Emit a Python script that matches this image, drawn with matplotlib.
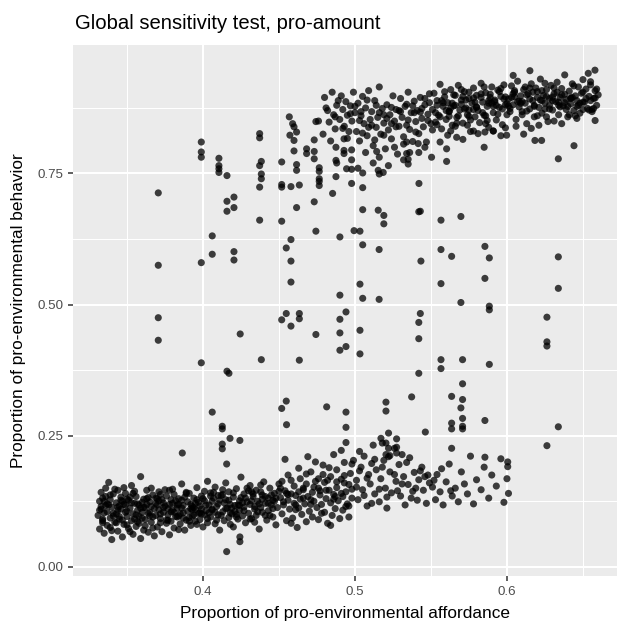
import matplotlib
matplotlib.use("Agg")
import matplotlib.pyplot as plt
from matplotlib.ticker import FixedLocator

plt.rcParams['font.family'] = ['Liberation Sans', 'DejaVu Sans']

# ---- data ----
# lower band, x 0.33-0.40
low_a_x = [0.331, 0.332, 0.332, 0.333, 0.333, 0.334, 0.334, 0.335, 0.336, 0.336,
           0.337, 0.337, 0.338, 0.339, 0.339, 0.340, 0.340, 0.341, 0.342, 0.343,
           0.343, 0.344, 0.344, 0.345, 0.346, 0.346, 0.347, 0.348, 0.348, 0.349,
           0.349, 0.350, 0.351, 0.351, 0.352, 0.353, 0.353, 0.354, 0.355, 0.356,
           0.356, 0.357, 0.358, 0.358, 0.359, 0.359, 0.360, 0.361, 0.361, 0.362,
           0.362, 0.363, 0.364, 0.364, 0.365, 0.366, 0.366, 0.367, 0.368, 0.369,
           0.369, 0.370, 0.371, 0.371, 0.372, 0.373, 0.373, 0.374, 0.375, 0.376,
           0.376, 0.377, 0.378, 0.378, 0.379, 0.380, 0.380, 0.381, 0.382, 0.383,
           0.383, 0.384, 0.385, 0.385, 0.386, 0.387, 0.387, 0.388, 0.389, 0.390,
           0.390, 0.391, 0.392, 0.392, 0.393, 0.394, 0.394, 0.395, 0.396, 0.397,
           0.397, 0.398, 0.399, 0.399, 0.400, 0.401, 0.401, 0.402, 0.403, 0.403,
           0.333, 0.335, 0.338, 0.341, 0.344, 0.347, 0.350, 0.352, 0.355, 0.357,
           0.360, 0.363, 0.365, 0.368, 0.370, 0.372, 0.374, 0.377, 0.379, 0.381,
           0.384, 0.386, 0.388, 0.391, 0.393, 0.395, 0.398, 0.400, 0.402, 0.334,
           0.339, 0.343, 0.346, 0.350, 0.354, 0.358, 0.363, 0.367, 0.372, 0.376,
           0.380, 0.384, 0.389, 0.393, 0.396, 0.340, 0.348, 0.356, 0.366, 0.378]
low_a_y = [0.098, 0.125, 0.072, 0.142, 0.110, 0.088, 0.131, 0.064, 0.117, 0.150,
           0.105, 0.079, 0.161, 0.093, 0.128, 0.052, 0.114, 0.139, 0.085, 0.101,
           0.122, 0.068, 0.146, 0.091, 0.110, 0.133, 0.057, 0.119, 0.081, 0.104,
           0.140, 0.096, 0.073, 0.127, 0.112, 0.088, 0.155, 0.062, 0.121, 0.099,
           0.134, 0.108, 0.083, 0.118, 0.172, 0.054, 0.093, 0.129, 0.070, 0.113,
           0.090, 0.146, 0.102, 0.066, 0.124, 0.085, 0.115, 0.137, 0.059, 0.098,
           0.121, 0.076, 0.109, 0.143, 0.092, 0.128, 0.067, 0.104, 0.116, 0.083,
           0.135, 0.099, 0.061, 0.119, 0.087, 0.148, 0.108, 0.074, 0.126, 0.095,
           0.112, 0.130, 0.082, 0.101, 0.158, 0.093, 0.117, 0.070, 0.089, 0.124,
           0.106, 0.140, 0.079, 0.119, 0.097, 0.131, 0.113, 0.087, 0.151, 0.102,
           0.123, 0.090, 0.135, 0.110, 0.076, 0.144, 0.099, 0.118, 0.163, 0.084,
           0.115, 0.103, 0.118, 0.097, 0.108, 0.125, 0.106, 0.133, 0.091, 0.120,
           0.104, 0.119, 0.097, 0.111, 0.130, 0.101, 0.122, 0.111, 0.128, 0.104,
           0.097, 0.112, 0.133, 0.094, 0.109, 0.121, 0.103, 0.130, 0.107, 0.084,
           0.137, 0.084, 0.127, 0.080, 0.140, 0.096, 0.130, 0.074, 0.138, 0.089,
           0.121, 0.071, 0.142, 0.115, 0.081, 0.069, 0.151, 0.077, 0.150, 0.146]

# lower band, x 0.40-0.45
low_b_x = [0.404, 0.405, 0.405, 0.406, 0.407, 0.408, 0.408, 0.409, 0.410, 0.411,
           0.411, 0.412, 0.413, 0.414, 0.414, 0.415, 0.416, 0.417, 0.417, 0.418,
           0.419, 0.420, 0.420, 0.421, 0.422, 0.423, 0.424, 0.424, 0.425, 0.426,
           0.427, 0.427, 0.428, 0.429, 0.430, 0.431, 0.431, 0.432, 0.433, 0.434,
           0.435, 0.435, 0.436, 0.437, 0.438, 0.439, 0.439, 0.440, 0.441, 0.442,
           0.443, 0.443, 0.444, 0.445, 0.446, 0.447, 0.447, 0.448, 0.449, 0.450,
           0.406, 0.410, 0.415, 0.419, 0.423, 0.428, 0.432, 0.437, 0.441, 0.446,
           0.404, 0.409, 0.413, 0.418, 0.422, 0.426, 0.430, 0.434, 0.438, 0.444]
low_b_y = [0.118, 0.095, 0.141, 0.108, 0.131, 0.082, 0.152, 0.115, 0.099, 0.127,
           0.070, 0.136, 0.105, 0.122, 0.088, 0.160, 0.112, 0.094, 0.143, 0.119,
           0.101, 0.133, 0.076, 0.117, 0.149, 0.091, 0.126, 0.108, 0.171, 0.097,
           0.139, 0.114, 0.084, 0.124, 0.102, 0.155, 0.119, 0.092, 0.134, 0.110,
           0.146, 0.098, 0.125, 0.072, 0.113, 0.137, 0.104, 0.162, 0.121, 0.089,
           0.131, 0.107, 0.150, 0.118, 0.095, 0.140, 0.125, 0.080, 0.113, 0.158,
           0.125, 0.136, 0.128, 0.112, 0.118, 0.131, 0.143, 0.120, 0.134, 0.127,
           0.103, 0.089, 0.147, 0.081, 0.100, 0.122, 0.145, 0.085, 0.156, 0.098]

# lower band, extra fill x 0.33-0.45
low_e_x = [0.332, 0.334, 0.336, 0.337, 0.339, 0.341, 0.342, 0.344, 0.345, 0.347,
           0.349, 0.350, 0.352, 0.354, 0.355, 0.357, 0.359, 0.360, 0.362, 0.364,
           0.365, 0.367, 0.369, 0.370, 0.372, 0.374, 0.375, 0.377, 0.379, 0.381,
           0.382, 0.384, 0.386, 0.387, 0.389, 0.391, 0.392, 0.394, 0.396, 0.398,
           0.399, 0.401, 0.403, 0.405, 0.406, 0.408, 0.410, 0.412, 0.413, 0.415,
           0.417, 0.418, 0.420, 0.422, 0.424, 0.425, 0.427, 0.429, 0.431, 0.432,
           0.434, 0.436, 0.438, 0.439, 0.441, 0.443, 0.445, 0.446, 0.448, 0.450,
           0.335, 0.345, 0.353, 0.361, 0.371, 0.383, 0.395, 0.407, 0.421, 0.433]
low_e_y = [0.108, 0.091, 0.134, 0.120, 0.075, 0.102, 0.148, 0.114, 0.096, 0.089,
           0.118, 0.129, 0.067, 0.101, 0.144, 0.086, 0.112, 0.123, 0.078, 0.132,
           0.104, 0.095, 0.131, 0.118, 0.084, 0.113, 0.147, 0.089, 0.105, 0.138,
           0.096, 0.119, 0.127, 0.103, 0.140, 0.087, 0.111, 0.099, 0.128, 0.116,
           0.101, 0.126, 0.092, 0.135, 0.110, 0.104, 0.120, 0.098, 0.138, 0.111,
           0.127, 0.103, 0.141, 0.095, 0.117, 0.132, 0.107, 0.150, 0.091, 0.126,
           0.115, 0.105, 0.143, 0.129, 0.098, 0.121, 0.137, 0.111, 0.131, 0.144,
           0.125, 0.116, 0.122, 0.113, 0.126, 0.118, 0.109, 0.142, 0.106, 0.139]

# lower band, x 0.45-0.50
low_c_x = [0.451, 0.452, 0.452, 0.453, 0.454, 0.455, 0.456, 0.456, 0.457, 0.458,
           0.459, 0.460, 0.460, 0.461, 0.462, 0.463, 0.464, 0.464, 0.465, 0.466,
           0.467, 0.468, 0.468, 0.469, 0.470, 0.471, 0.472, 0.472, 0.473, 0.474,
           0.475, 0.476, 0.476, 0.477, 0.478, 0.479, 0.480, 0.480, 0.481, 0.482,
           0.483, 0.484, 0.484, 0.485, 0.486, 0.487, 0.488, 0.488, 0.489, 0.490,
           0.491, 0.492, 0.492, 0.493, 0.494, 0.495, 0.496, 0.496, 0.497, 0.498,
           0.455, 0.461, 0.466, 0.471, 0.477, 0.482, 0.487, 0.493, 0.498, 0.469,
           0.454, 0.463, 0.474, 0.479, 0.486, 0.491, 0.499, 0.458, 0.484, 0.494]
low_c_y = [0.132, 0.101, 0.163, 0.118, 0.145, 0.088, 0.127, 0.175, 0.110, 0.139,
           0.093, 0.154, 0.121, 0.136, 0.075, 0.112, 0.168, 0.129, 0.100, 0.147,
           0.120, 0.086, 0.158, 0.134, 0.106, 0.181, 0.142, 0.095, 0.125, 0.163,
           0.113, 0.150, 0.090, 0.137, 0.119, 0.194, 0.104, 0.161, 0.130, 0.083,
           0.146, 0.122, 0.172, 0.098, 0.138, 0.111, 0.185, 0.151, 0.126, 0.092,
           0.167, 0.134, 0.108, 0.199, 0.143, 0.120, 0.157, 0.095, 0.178, 0.131,
           0.140, 0.118, 0.150, 0.128, 0.145, 0.165, 0.134, 0.160, 0.148, 0.210,
           0.205, 0.188, 0.200, 0.176, 0.214, 0.222, 0.203, 0.083, 0.079, 0.115]

# lower band, extra fill x 0.45-0.56
low_f_x = [0.451, 0.453, 0.456, 0.458, 0.461, 0.463, 0.466, 0.468, 0.471, 0.473,
           0.476, 0.478, 0.481, 0.483, 0.486, 0.488, 0.491, 0.493, 0.496, 0.498,
           0.501, 0.503, 0.506, 0.508, 0.511, 0.513, 0.516, 0.518, 0.521, 0.523,
           0.526, 0.528, 0.531, 0.534, 0.537, 0.543, 0.546, 0.552, 0.557, 0.563]
low_f_y = [0.150, 0.124, 0.138, 0.165, 0.109, 0.143, 0.131, 0.177, 0.119, 0.152,
           0.168, 0.102, 0.146, 0.189, 0.129, 0.162, 0.140, 0.174, 0.116, 0.196,
           0.152, 0.183, 0.136, 0.169, 0.121, 0.205, 0.148, 0.190, 0.133, 0.212,
           0.176, 0.145, 0.158, 0.199, 0.131, 0.183, 0.172, 0.165, 0.187, 0.145]

# lower band, x 0.50-0.60
low_d_x = [0.501, 0.502, 0.504, 0.505, 0.506, 0.508, 0.509, 0.510, 0.512, 0.513,
           0.514, 0.516, 0.517, 0.519, 0.520, 0.521, 0.523, 0.524, 0.526, 0.527,
           0.529, 0.530, 0.532, 0.533, 0.535, 0.536, 0.538, 0.539, 0.541, 0.542,
           0.544, 0.545, 0.547, 0.548, 0.549, 0.503, 0.511, 0.518, 0.531, 0.540,
           0.551, 0.553, 0.554, 0.556, 0.558, 0.560, 0.562, 0.564, 0.566, 0.568,
           0.570, 0.572, 0.574, 0.576, 0.578, 0.580, 0.583, 0.585, 0.588, 0.590,
           0.593, 0.596, 0.598, 0.600, 0.601]
low_d_y = [0.165, 0.128, 0.190, 0.147, 0.211, 0.116, 0.176, 0.158, 0.232, 0.139,
           0.185, 0.124, 0.168, 0.203, 0.150, 0.112, 0.181, 0.141, 0.226, 0.163,
           0.195, 0.135, 0.172, 0.118, 0.157, 0.208, 0.144, 0.180, 0.127, 0.166,
           0.190, 0.146, 0.121, 0.175, 0.160, 0.220, 0.197, 0.236, 0.214, 0.150,
           0.152, 0.128, 0.176, 0.143, 0.118, 0.162, 0.196, 0.135, 0.150, 0.124,
           0.181, 0.158, 0.139, 0.211, 0.120, 0.166, 0.147, 0.190, 0.131, 0.175,
           0.154, 0.206, 0.123, 0.168, 0.140]

# upper band, x 0.48-0.55
up_a_x = [0.480, 0.482, 0.483, 0.485, 0.486, 0.487, 0.488, 0.490, 0.491, 0.492,
          0.493, 0.494, 0.495, 0.496, 0.497, 0.498, 0.499, 0.500,
          0.501, 0.502, 0.503, 0.504, 0.505, 0.506, 0.507, 0.508, 0.509, 0.510,
          0.511, 0.512, 0.513, 0.514, 0.515, 0.516, 0.517, 0.518, 0.519, 0.520,
          0.521, 0.522, 0.523, 0.524, 0.525, 0.526, 0.527, 0.528, 0.529, 0.530,
          0.531, 0.532, 0.533, 0.534, 0.535, 0.536, 0.537, 0.538, 0.539, 0.540,
          0.541, 0.542, 0.543, 0.544, 0.545, 0.546, 0.547, 0.548, 0.549, 0.550,
          0.504, 0.509, 0.514, 0.519, 0.524, 0.529, 0.534, 0.539, 0.544, 0.549,
          0.507, 0.516, 0.526, 0.536, 0.546, 0.512, 0.522, 0.532, 0.542, 0.502]
up_a_y = [0.895, 0.870, 0.848, 0.905, 0.862, 0.835, 0.880, 0.853, 0.898, 0.872,
          0.840, 0.887, 0.861, 0.830, 0.879, 0.850, 0.905, 0.866,
          0.830, 0.884, 0.812, 0.860, 0.897, 0.845, 0.875, 0.822, 0.908, 0.853,
          0.868, 0.803, 0.889, 0.838, 0.857, 0.915, 0.825, 0.874, 0.846, 0.797,
          0.881, 0.833, 0.862, 0.816, 0.898, 0.850, 0.872, 0.787, 0.840, 0.893,
          0.857, 0.820, 0.878, 0.842, 0.905, 0.834, 0.866, 0.811, 0.888, 0.849,
          0.870, 0.826, 0.895, 0.855, 0.839, 0.881, 0.810, 0.863, 0.902, 0.845,
          0.868, 0.838, 0.880, 0.862, 0.845, 0.870, 0.882, 0.866, 0.874, 0.885,
          0.790, 0.781, 0.800, 0.790, 0.800, 0.770, 0.765, 0.776, 0.790, 0.760]

# upper band, x 0.55-0.60
up_b_x = [0.551, 0.552, 0.553, 0.554, 0.555, 0.556, 0.557, 0.558, 0.559, 0.560,
          0.561, 0.562, 0.563, 0.564, 0.565, 0.566, 0.567, 0.568, 0.569, 0.570,
          0.571, 0.572, 0.573, 0.574, 0.575, 0.576, 0.577, 0.578, 0.579, 0.580,
          0.581, 0.582, 0.583, 0.584, 0.585, 0.586, 0.587, 0.588, 0.589, 0.590,
          0.591, 0.592, 0.593, 0.594, 0.595, 0.596, 0.597, 0.598, 0.599, 0.600,
          0.553, 0.558, 0.563, 0.568, 0.573, 0.578, 0.583, 0.588, 0.593, 0.598,
          0.556, 0.561, 0.566, 0.571, 0.576, 0.581, 0.586, 0.591, 0.596, 0.585]
up_b_y = [0.872, 0.903, 0.848, 0.889, 0.861, 0.920, 0.835, 0.878, 0.896, 0.853,
          0.885, 0.868, 0.910, 0.842, 0.879, 0.899, 0.857, 0.918, 0.871, 0.890,
          0.846, 0.906, 0.875, 0.862, 0.893, 0.830, 0.884, 0.913, 0.858, 0.899,
          0.870, 0.847, 0.922, 0.886, 0.861, 0.904, 0.878, 0.838, 0.895, 0.915,
          0.866, 0.890, 0.852, 0.909, 0.876, 0.897, 0.843, 0.919, 0.881, 0.862,
          0.866, 0.885, 0.875, 0.860, 0.890, 0.872, 0.895, 0.884, 0.880, 0.892,
          0.810, 0.823, 0.840, 0.815, 0.852, 0.826, 0.845, 0.831, 0.822, 0.800]

# upper band, x 0.60-0.66
up_c_x = [0.601, 0.602, 0.603, 0.604, 0.605, 0.606, 0.607, 0.608, 0.609, 0.610,
          0.611, 0.612, 0.613, 0.614, 0.615, 0.616, 0.617, 0.618, 0.619, 0.620,
          0.621, 0.622, 0.623, 0.624, 0.625, 0.626, 0.627, 0.628, 0.629, 0.630,
          0.631, 0.632, 0.633, 0.634, 0.635, 0.636, 0.637, 0.638, 0.639, 0.640,
          0.641, 0.642, 0.643, 0.644, 0.645, 0.646, 0.647, 0.648, 0.649, 0.650,
          0.651, 0.652, 0.653, 0.654, 0.655, 0.656, 0.657, 0.658, 0.659, 0.660,
          0.603, 0.608, 0.613, 0.618, 0.623, 0.628, 0.633, 0.638, 0.643, 0.648,
          0.606, 0.616, 0.626, 0.636, 0.646, 0.656, 0.611, 0.621, 0.631, 0.641]
up_c_y = [0.892, 0.868, 0.917, 0.881, 0.905, 0.853, 0.926, 0.877, 0.898, 0.862,
          0.910, 0.884, 0.845, 0.902, 0.873, 0.921, 0.889, 0.858, 0.913, 0.895,
          0.876, 0.930, 0.865, 0.899, 0.884, 0.910, 0.849, 0.893, 0.918, 0.871,
          0.902, 0.887, 0.924, 0.862, 0.895, 0.912, 0.879, 0.938, 0.891, 0.858,
          0.907, 0.883, 0.921, 0.870, 0.898, 0.889, 0.915, 0.865, 0.903, 0.929,
          0.886, 0.911, 0.874, 0.897, 0.925, 0.868, 0.893, 0.908, 0.880, 0.900,
          0.895, 0.888, 0.900, 0.878, 0.908, 0.880, 0.905, 0.885, 0.895, 0.884,
          0.840, 0.836, 0.858, 0.845, 0.855, 0.872, 0.825, 0.842, 0.850, 0.862]

# upper band, extra fill x 0.47-0.66
up_d_x = [0.476, 0.479, 0.481, 0.484, 0.487, 0.489, 0.492, 0.495, 0.497, 0.500,
          0.503, 0.505, 0.508, 0.511, 0.513, 0.516, 0.519, 0.521, 0.524, 0.527,
          0.530, 0.532, 0.535, 0.538, 0.540, 0.543, 0.546, 0.548, 0.551, 0.554,
          0.556, 0.559, 0.562, 0.564, 0.567, 0.570, 0.572, 0.575, 0.578, 0.580,
          0.583, 0.586, 0.588, 0.591, 0.594, 0.596, 0.599, 0.602, 0.604, 0.607,
          0.610, 0.612, 0.615, 0.618, 0.620, 0.623, 0.626, 0.628, 0.631, 0.634,
          0.636, 0.639, 0.642, 0.644, 0.647, 0.650, 0.652, 0.655, 0.657, 0.659]
up_d_y = [0.850, 0.825, 0.875, 0.812, 0.858, 0.889, 0.836, 0.817, 0.864, 0.878,
          0.851, 0.827, 0.890, 0.842, 0.814, 0.866, 0.823, 0.855, 0.876, 0.839,
          0.868, 0.806, 0.852, 0.879, 0.829, 0.867, 0.893, 0.851, 0.833, 0.880,
          0.858, 0.906, 0.869, 0.884, 0.846, 0.910, 0.873, 0.859, 0.894, 0.876,
          0.902, 0.860, 0.889, 0.878, 0.863, 0.912, 0.896, 0.874, 0.902, 0.887,
          0.868, 0.915, 0.892, 0.880, 0.906, 0.889, 0.897, 0.873, 0.913, 0.886,
          0.900, 0.872, 0.894, 0.917, 0.880, 0.905, 0.893, 0.919, 0.874, 0.911]

# upper band, extra fill x 0.55-0.66
up_e_x = [0.557, 0.562, 0.566, 0.571, 0.575, 0.579, 0.584, 0.589, 0.592, 0.597,
          0.601, 0.605, 0.609, 0.613, 0.617, 0.622, 0.625, 0.630, 0.634, 0.638,
          0.642, 0.646, 0.650, 0.654, 0.658, 0.560, 0.570, 0.580, 0.590, 0.600,
          0.610, 0.620, 0.630, 0.640, 0.650, 0.565, 0.575, 0.595, 0.615, 0.635,
          0.645, 0.655, 0.605, 0.625, 0.585, 0.554, 0.563, 0.574, 0.587, 0.599]
up_e_y = [0.889, 0.859, 0.880, 0.897, 0.871, 0.886, 0.866, 0.901, 0.887, 0.873,
          0.879, 0.896, 0.884, 0.869, 0.905, 0.890, 0.873, 0.889, 0.880, 0.901,
          0.893, 0.878, 0.886, 0.871, 0.894, 0.870, 0.882, 0.877, 0.884, 0.883,
          0.887, 0.860, 0.896, 0.878, 0.872, 0.900, 0.905, 0.906, 0.913, 0.877,
          0.860, 0.889, 0.908, 0.922, 0.915, 0.843, 0.831, 0.842, 0.851, 0.837]

# scattered runs between the two bands
mid_x = [0.3706, 0.3706, 0.3706, 0.3706, 0.3989, 0.3989, 0.3989, 0.3989, 0.3989,
         0.4061, 0.4061, 0.4061, 0.4105, 0.4105, 0.4105, 0.4105, 0.4158, 0.4158,
         0.4158, 0.4204, 0.4204, 0.4204, 0.4204, 0.4245, 0.4158, 0.4171, 0.4373,
         0.4373, 0.4384, 0.4373, 0.4384, 0.4384, 0.4373, 0.4373, 0.4384, 0.4518,
         0.4518, 0.4518, 0.4518, 0.4518, 0.4518, 0.4548, 0.4548, 0.4579, 0.4548,
         0.4579, 0.4579, 0.4579, 0.4579, 0.4634, 0.4634, 0.4634, 0.4616, 0.4634,
         0.4568, 0.4590, 0.4599, 0.4616, 0.4572, 0.4599, 0.4599, 0.4616, 0.4616,
         0.4682, 0.4682, 0.4732, 0.4732, 0.4732, 0.4743, 0.4765, 0.4765, 0.4765,
         0.4765, 0.4765, 0.4732, 0.4743, 0.4743, 0.4814, 0.4853, 0.4875, 0.4875,
         0.4880, 0.4875, 0.4901, 0.4901, 0.4901, 0.4941, 0.4901, 0.4901, 0.4941,
         0.4941, 0.4928, 0.4928, 0.4928, 0.4945, 0.4978, 0.4978, 0.4978, 0.4978,
         0.4994, 0.5033, 0.5033, 0.5051, 0.5033, 0.5033, 0.5051, 0.5051, 0.5051,
         0.5051, 0.5153, 0.5159, 0.5159, 0.5153, 0.5143,
         0.5160, 0.5186, 0.5421, 0.5190, 0.5190, 0.5420, 0.5430, 0.5566, 0.5697,
         0.5434, 0.5566, 0.5636, 0.5855, 0.5884, 0.6338, 0.5566, 0.5855, 0.6338,
         0.5697, 0.5884, 0.5884, 0.5430, 0.5420, 0.5420, 0.6263, 0.6263, 0.6263,
         0.5566, 0.5566, 0.5708, 0.5884, 0.5420, 0.5708, 0.5373, 0.5636, 0.5708,
         0.5697, 0.5204, 0.5204, 0.5708, 0.5636, 0.5636, 0.5708, 0.5708, 0.5855,
         0.6338, 0.5463, 0.6263, 0.5636, 0.5855, 0.6005, 0.6005, 0.5221, 0.5171,
         0.5204, 0.5274, 0.5274, 0.5221, 0.5274, 0.5204, 0.5221,
         0.4550, 0.4941, 0.4941, 0.4243, 0.4178, 0.3864, 0.4127, 0.4127, 0.4127,
         0.4127, 0.4156, 0.4156, 0.4243, 0.4243,
         0.5603, 0.5504, 0.5340, 0.5350, 0.5350, 0.5340, 0.5416, 0.5603, 0.5669,
         0.5780, 0.5855, 0.5910, 0.5998, 0.6184, 0.6228, 0.6338, 0.6441, 0.6151,
         0.6579, 0.6535, 0.6041, 0.6580]
mid_y = [0.713, 0.575, 0.475, 0.432, 0.810, 0.791, 0.781, 0.580, 0.389,
         0.631, 0.596, 0.295, 0.779, 0.765, 0.759, 0.752, 0.746, 0.697,
         0.678, 0.705, 0.685, 0.601, 0.585, 0.444, 0.373, 0.369, 0.826,
         0.818, 0.773, 0.765, 0.749, 0.740, 0.724, 0.661, 0.395, 0.772,
         0.729, 0.724, 0.659, 0.471, 0.302, 0.483, 0.316, 0.624, 0.608,
         0.583, 0.543, 0.459, 0.725, 0.483, 0.473, 0.394, 0.685, 0.728,
         0.858, 0.845, 0.839, 0.829, 0.823, 0.813, 0.793, 0.767, 0.756,
         0.797, 0.788, 0.814, 0.792, 0.778, 0.849, 0.761, 0.754, 0.740,
         0.735, 0.727, 0.696, 0.640, 0.443, 0.305, 0.712, 0.800, 0.775,
         0.770, 0.744, 0.629, 0.518, 0.472, 0.486, 0.446, 0.413, 0.420,
         0.295, 0.816, 0.794, 0.788, 0.759, 0.758, 0.795, 0.776, 0.731,
         0.641, 0.640, 0.539, 0.512, 0.451, 0.406, 0.751, 0.723, 0.681,
         0.614, 0.680, 0.605, 0.510, 0.756, 0.792,
         0.749, 0.752, 0.731, 0.670, 0.654, 0.677, 0.678, 0.661, 0.668,
         0.583, 0.605, 0.592, 0.611, 0.589, 0.591, 0.540, 0.550, 0.531,
         0.504, 0.497, 0.490, 0.483, 0.466, 0.435, 0.476, 0.429, 0.421,
         0.395, 0.378, 0.395, 0.386, 0.369, 0.349, 0.324, 0.325, 0.319,
         0.303, 0.314, 0.297, 0.283, 0.274, 0.263, 0.268, 0.263, 0.279,
         0.267, 0.257, 0.231, 0.226, 0.209, 0.200, 0.191, 0.255, 0.245,
         0.236, 0.244, 0.228, 0.226, 0.217, 0.214, 0.210,
         0.271, 0.266, 0.237, 0.241, 0.245, 0.217, 0.268, 0.263, 0.234,
         0.225, 0.196, 0.029, 0.057, 0.048,
         0.773, 0.781, 0.788, 0.777, 0.768, 0.810, 0.807, 0.797, 0.819,
         0.831, 0.829, 0.831, 0.823, 0.813, 0.813, 0.778, 0.803, 0.946,
         0.947, 0.941, 0.937, 0.851]

x_ticks = [0.4, 0.5, 0.6]
x_tick_labels = ["0.4", "0.5", "0.6"]
y_ticks = [0.0, 0.25, 0.5, 0.75]
y_tick_labels = ["0.00", "0.25", "0.50", "0.75"]

# ---- figure ----
fig = plt.figure(figsize=(6.17, 6.28), dpi=100)
ax = fig.add_axes([73 / 617, 1 - 576 / 628, 1 - 73 / 617, (576 - 45) / 628])
ax.set_facecolor('#EBEBEB')

groups = [(low_a_x, low_a_y), (low_b_x, low_b_y), (low_e_x, low_e_y),
          (low_c_x, low_c_y), (low_f_x, low_f_y), (low_d_x, low_d_y),
          (up_a_x, up_a_y), (up_b_x, up_b_y), (up_c_x, up_c_y),
          (up_d_x, up_d_y), (up_e_x, up_e_y), (mid_x, mid_y)]
for gx, gy in groups:
    ax.scatter(gx, gy, s=26, color='black', alpha=0.75, edgecolors='none', zorder=3)

ax.set_xlim(0.3145, 0.6724)
ax.set_ylim(-0.0175, 0.995)

ax.xaxis.set_major_locator(FixedLocator(x_ticks))
ax.set_xticklabels(x_tick_labels)
ax.yaxis.set_major_locator(FixedLocator(y_ticks))
ax.set_yticklabels(y_tick_labels)
ax.xaxis.set_minor_locator(FixedLocator([0.35, 0.45, 0.55, 0.65]))
ax.yaxis.set_minor_locator(FixedLocator([0.125, 0.375, 0.625, 0.875]))

ax.grid(which='major', color='white', linewidth=1.5, zorder=0)
ax.grid(which='minor', color='white', linewidth=0.75, zorder=0)
ax.set_axisbelow(True)
for sp in ax.spines.values():
    sp.set_visible(False)

ax.tick_params(which='major', length=3.5, width=1.1, color='#333333',
               labelsize=9.6, labelcolor='#4D4D4D', pad=3.5)
ax.tick_params(which='minor', length=0)

ax.set_xlabel('Proportion of pro-environmental affordance', fontsize=12.4,
              color='black', labelpad=6)
ax.set_ylabel('Proportion of pro-environmental behavior', fontsize=12.4,
              color='black', labelpad=8)

fig.text(75 / 617, 1 - 29 / 628, 'Global sensitivity test, pro-amount',
         fontsize=14.6, color='black', ha='left', va='baseline')

fig.savefig('out.png', dpi=100)
